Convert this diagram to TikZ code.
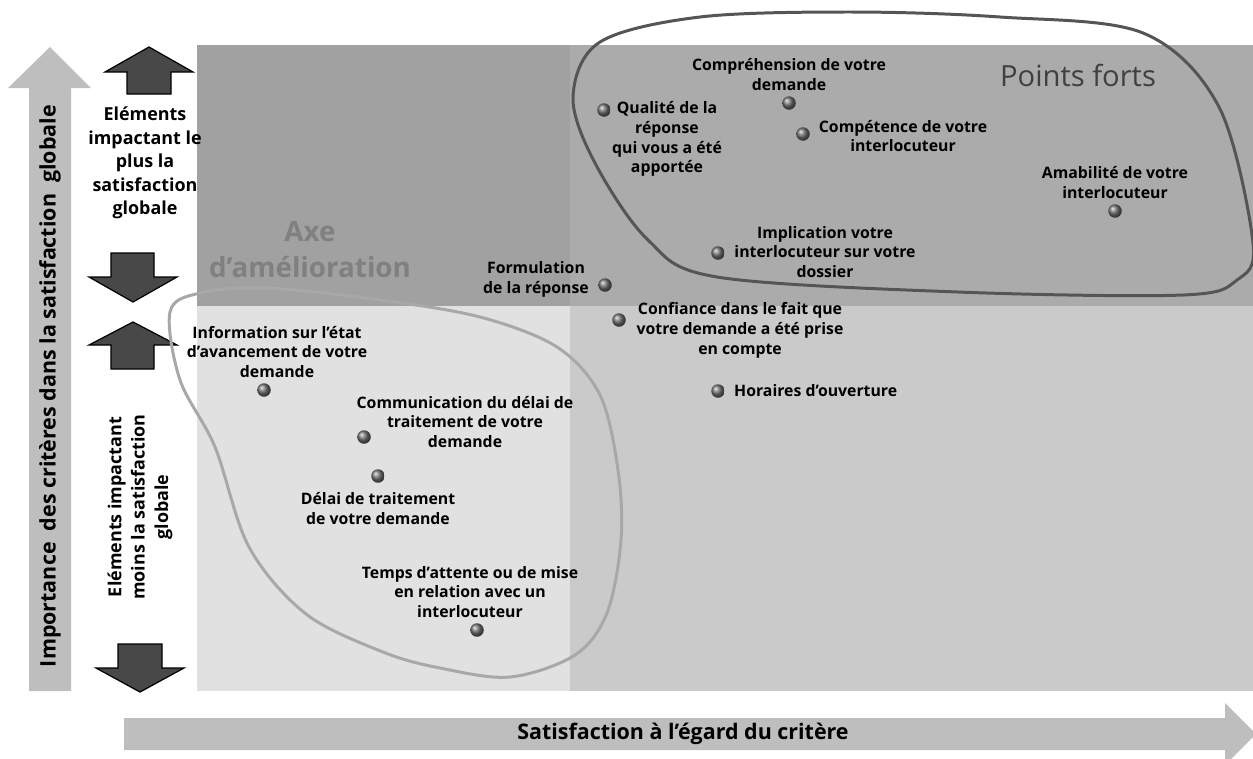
\documentclass[tikz,border=0pt]{standalone}
\usepackage{fontspec}
\setmainfont{Open Sans}
\usetikzlibrary{positioning}
\definecolor{quadtl}{RGB}{161,161,161}
\definecolor{quadtr}{RGB}{171,171,171}
\definecolor{quadbl}{RGB}{225,225,225}
\definecolor{quadbr}{RGB}{202,202,202}
\definecolor{axisgray}{RGB}{190,190,190}
\definecolor{arrowdark}{RGB}{72,72,72}
\definecolor{strongline}{RGB}{85,85,85}
\definecolor{weakline}{RGB}{168,168,168}

\begin{document}
\begin{tikzpicture}[x=0.02cm,y=-0.02cm,
  lbl/.style={align=center,inner sep=0pt,font=\fontsize{9}{11.3}\selectfont\bfseries},
  sidelbl/.style={align=center,inner sep=0pt,font=\fontsize{10.2}{13.3}\selectfont\bfseries},
  axislbl/.style={inner sep=0pt,font=\fontsize{12.2}{14}\selectfont\bfseries},
  dot/.style={circle,inner sep=0pt,minimum size=0.27cm,shading=ball,ball color=gray!90!black},
  dkarrow/.style={fill=arrowdark,draw=black,line width=0.7pt}]
\clip (0,0) rectangle (1253,758);
% quadrants
\fill[quadtl] (197,45) rectangle (570,306);
\fill[quadtr] (570,45) rectangle (1253,306);
\fill[quadbl] (197,306) rectangle (570,691);
\fill[quadbr] (570,306) rectangle (1253,691);
% axes
\fill[axisgray] (29,691) -- (29,88) -- (8,88) -- (50,47) -- (91,88) -- (71,88) -- (71,691) -- cycle;
\fill[axisgray] (124,718) -- (1225,718) -- (1225,703) -- (1256,734) -- (1225,765) -- (1225,750) -- (124,750) -- cycle;
\node[axislbl,rotate=90] (importance) at (50,386) {Importance\ \ des critères dans la satisfaction\ \ globale};
\node[axislbl] (satisfaction) at (683,734) {Satisfaction à l’égard du critère};
% dark arrows
\draw[dkarrow] (127,94) -- (127,72) -- (105,72) -- (149,47) -- (193,72) -- (171,72) -- (171,94) -- cycle;
\draw[dkarrow] (111,253) -- (111,277) -- (89,277) -- (133,302) -- (177,277) -- (154,277) -- (154,253) -- cycle;
\draw[dkarrow] (111,369) -- (111,345) -- (89,345) -- (133,322) -- (177,345) -- (154,345) -- (154,369) -- cycle;
\draw[dkarrow] (118,644) -- (118,668) -- (96,668) -- (140,692) -- (184,668) -- (162,668) -- (162,644) -- cycle;
\node[sidelbl] (plus) at (145,163) {Eléments\\impactant le\\plus la\\satisfaction\\globale};
\node[sidelbl,rotate=90] (moins) at (140,507) {Eléments impactant\\moins la satisfaction\\globale};
% groups
\draw[strongline,line width=1.7pt] plot[smooth cycle,tension=0.55] coordinates {(573,97) (600,42) (700,17) (850,12) (1000,17) (1143,33) (1219,107) (1253,243) (1237,280) (1183,295) (958,292) (717,277) (648,240) (595,163)};
\draw[weakline,line width=1.7pt] plot[smooth cycle,tension=0.55] coordinates {(170,312) (200,293) (267,288) (380,300) (480,317) (557,347) (600,395) (618,470) (621,540) (607,613) (575,655) (510,677) (440,668) (383,652) (306,614) (249,547) (215,447) (180,380)};
\node[text=strongline!75!black,font=\fontsize{16.6}{18}\selectfont,inner sep=0pt] (forts) at (1078,75) {Points forts};
\node[text=gray,font=\fontsize{15.8}{20.5}\selectfont\bfseries,align=center,inner sep=0pt] (axe) at (310,250) {Axe\\d’amélioration};
% criteria
\node[dot] (dcompr) at (789,103) {};
\node[lbl,above=3pt of dcompr] (compr) {Compréhension de votre\\demande};
\node[dot] (dqual) at (604,110) {};
\node[lbl] (qual) at (667,139) {Qualité de la\\réponse\\qui vous a été\\apportée};
\node[dot] (dcompet) at (803,134) {};
\node[lbl] (compet) at (903,136) {Compétence de votre\\interlocuteur};
\node[dot] (damab) at (1115,211) {};
\node[lbl,above=3pt of damab] (amab) {Amabilité de votre\\interlocuteur};
\node[dot] (dimpl) at (718,253) {};
\node[lbl] (impl) at (825,252) {Implication votre\\interlocuteur sur votre\\dossier};
\node[dot] (dform) at (605,285) {};
\node[lbl] (form) at (536,279) {Formulation\\de la réponse};
\node[dot] (dconf) at (619,320) {};
\node[lbl] (conf) at (740,330) {Confiance dans le fait que\\votre demande a été prise\\en compte};
\node[dot] (dhor) at (718,391) {};
\node[lbl,right=5pt of dhor] (hor) {Horaires d’ouverture};
\node[dot] (dinfo) at (264,390) {};
\node[lbl] (info) at (277,352) {Information sur l’état\\d’avancement de votre\\demande};
\node[dot] (dcomm) at (364,437) {};
\node[lbl] (comm) at (465,422) {Communication du délai de\\traitement de votre\\demande};
\node[dot] (ddelai) at (378,476) {};
\node[lbl,below=5pt of ddelai] (delai) {Délai de traitement\\de votre demande};
\node[dot] (dtemps) at (477,630) {};
\node[lbl] (temps) at (470,592) {Temps d’attente ou de mise\\en relation avec un\\interlocuteur};
\end{tikzpicture}
\end{document}
